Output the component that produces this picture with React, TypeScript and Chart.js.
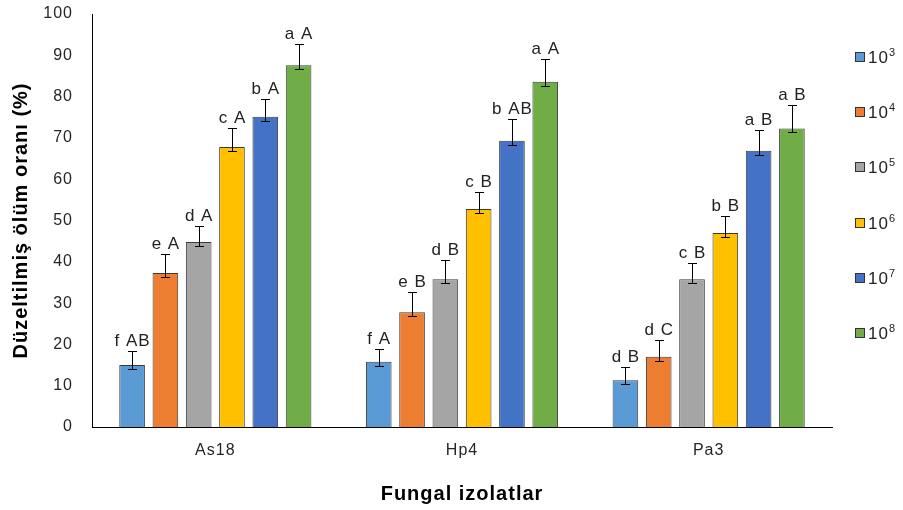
import React, { useEffect, useRef } from "react";
import { Chart, registerables } from "chart.js";

Chart.register(...registerables);

const categories = ["As18", "Hp4", "Pa3"];
const seriesLabels = ["10³", "10⁴", "10⁵", "10⁶", "10⁷", "10⁸"];
const seriesColors = ["#5B9BD5", "#ED7D31", "#A5A5A5", "#FFC000", "#4472C4", "#70AD47"];

const values3 = [15.0, 15.8, 11.3];
const values4 = [37.3, 27.8, 17.0];
const values5 = [44.8, 35.8, 35.8];
const values6 = [67.8, 52.8, 47.0];
const values7 = [75.1, 69.3, 66.9];
const values8 = [87.6, 83.6, 72.3];

const errors3 = [3.5, 3.1, 3.2];
const errors4 = [4.5, 5.0, 4.0];
const errors5 = [3.9, 4.6, 3.8];
const errors6 = [4.6, 4.0, 4.0];
const errors7 = [4.2, 5.2, 4.9];
const errors8 = [5.1, 5.6, 5.6];

const letters3 = ["f AB", "f A", "d B"];
const letters4 = ["e A", "e B", "d C"];
const letters5 = ["d A", "d B", "c B"];
const letters6 = ["c A", "c B", "b B"];
const letters7 = ["b A", "b AB", "a B"];
const letters8 = ["a A", "a A", "a B"];

const yTicks = [0, 10, 20, 30, 40, 50, 60, 70, 80, 90, 100];

const allValues = [values3, values4, values5, values6, values7, values8];
const allErrors = [errors3, errors4, errors5, errors6, errors7, errors8];
const allLetters = [letters3, letters4, letters5, letters6, letters7, letters8];

const FONT = "'Liberation Sans', Arial, sans-serif";
const SUP: Record<string, string> = { "⁰": "0", "¹": "1", "²": "2", "³": "3", "⁴": "4", "⁵": "5", "⁶": "6", "⁷": "7", "⁸": "8", "⁹": "9" };

const spacingPlugin = {
  id: "letterSpacing",
  beforeLayout(chart: any) {
    chart.ctx.letterSpacing = "1px";
  },
  beforeDraw(chart: any) {
    chart.ctx.letterSpacing = "1px";
  },
};

const errorPlugin = {
  id: "errorBarsLetters",
  afterDatasetsDraw(chart: any) {
    const ctx = chart.ctx;
    const yScale = chart.scales.y;
    ctx.save();
    chart.data.datasets.forEach((ds: any, di: number) => {
      const meta = chart.getDatasetMeta(di);
      meta.data.forEach((bar: any, i: number) => {
        const v = allValues[di][i];
        const e = allErrors[di][i];
        const x = Math.round(bar.x);
        const yTop = Math.round(yScale.getPixelForValue(v + e));
        const yBot = Math.round(bar.y + 4);
        ctx.strokeStyle = "#000";
        ctx.lineWidth = 1;
        ctx.beginPath();
        ctx.moveTo(x + 0.5, yTop);
        ctx.lineTo(x + 0.5, yBot);
        ctx.moveTo(x - 4, yTop + 0.5);
        ctx.lineTo(x + 5, yTop + 0.5);
        ctx.moveTo(x - 4, yBot + 0.5);
        ctx.lineTo(x + 5, yBot + 0.5);
        ctx.stroke();
        ctx.fillStyle = "#222";
        ctx.font = `17px ${FONT}`;
        ctx.textAlign = "center";
        ctx.textBaseline = "alphabetic";
        ctx.fillText(allLetters[di][i], bar.x + 0.5, yTop - 5);
      });
    });
    ctx.restore();
  },
};

const legendPlugin = {
  id: "customLegend",
  afterDraw(chart: any) {
    const ctx = chart.ctx;
    ctx.save();
    seriesLabels.forEach((lab, i) => {
      const cy = Math.round(57 + i * 55.2);
      ctx.fillStyle = seriesColors[i];
      ctx.fillRect(855, cy - 5, 10, 10);
      ctx.strokeStyle = "#333";
      ctx.lineWidth = 1;
      ctx.strokeRect(855.5, cy - 4.5, 9, 9);
      ctx.fillStyle = "#222";
      ctx.textAlign = "left";
      ctx.textBaseline = "alphabetic";
      let base = "";
      let sup = "";
      for (const ch of lab) {
        if (SUP[ch]) sup += SUP[ch];
        else base += ch;
      }
      ctx.letterSpacing = "1px";
      ctx.font = `17px ${FONT}`;
      ctx.fillText(base, 868, cy + 6);
      const w = ctx.measureText(base).width;
      ctx.letterSpacing = "0px";
      ctx.font = `11px ${FONT}`;
      ctx.fillText(sup, 868 + w, cy - 1);
    });
    ctx.restore();
  },
};

export default function App() {
  const ref = useRef<HTMLCanvasElement | null>(null);
  useEffect(() => {
    document.body.style.margin = "0";
    if (!ref.current) return;
    const chart = new Chart(ref.current, {
      type: "bar",
      data: {
        labels: categories,
        datasets: seriesLabels.map((lab, i) => ({
          label: lab,
          data: allValues[i],
          backgroundColor: seriesColors[i],
          borderColor: "#3a3a3a",
          borderWidth: 1,
          categoryPercentage: 0.81,
          barPercentage: 0.77,
        })),
      },
      options: {
        responsive: false,
        animation: false,
        layout: { padding: { top: 14, right: 71, left: 0, bottom: 0 } },
        plugins: {
          legend: { display: false },
          tooltip: { enabled: false },
        },
        scales: {
          x: {
            grid: { display: false, drawTicks: false },
            border: { display: true, color: "#000", width: 1 },
            ticks: { color: "#262626", font: { family: FONT, size: 16 }, padding: 14 },
            title: {
              display: true,
              text: "Fungal izolatlar",
              color: "#000",
              font: { family: FONT, size: 20, weight: "bold" },
              padding: { top: 0, bottom: 4 },
            },
            afterFit: (s: any) => {
              s.height = 83;
              s.paddingLeft = 0;
              s.paddingRight = 0;
            },
          },
          y: {
            min: 0,
            max: 100,
            grid: { display: false, drawTicks: false },
            border: { display: true, color: "#000", width: 1 },
            afterBuildTicks: (s: any) => {
              s.ticks = yTicks.map((v) => ({ value: v }));
            },
            ticks: { color: "#262626", font: { family: FONT, size: 16 }, padding: 19 },
            title: {
              display: true,
              text: "Düzeltilmiş ölüm oranı (%)",
              color: "#000",
              font: { family: FONT, size: 20, weight: "bold" },
              padding: { top: 9, bottom: 0 },
            },
            afterFit: (s: any) => {
              s.width = 92;
              s.paddingTop = 0;
              s.paddingBottom = 0;
            },
          },
        },
      },
      plugins: [spacingPlugin, errorPlugin, legendPlugin],
    });
    return () => chart.destroy();
  }, []);
  return (
    <div style={{ width: 903, height: 510, background: "#fff" }}>
      <canvas ref={ref} width={903} height={510} />
    </div>
  );
}
